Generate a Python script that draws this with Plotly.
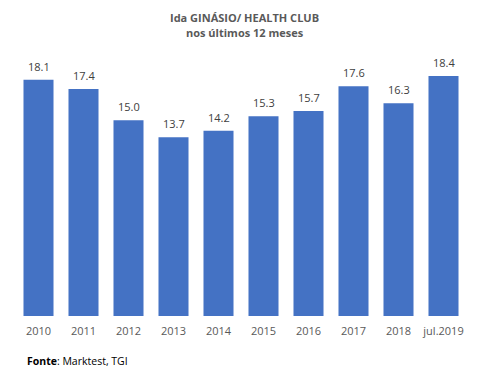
import plotly.graph_objects as go

categories = ["2010", "2011", "2012", "2013", "2014", "2015", "2016", "2017", "2018", "jul.2019"]
values = [18.1, 17.4, 15.0, 13.7, 14.2, 15.3, 15.7, 17.6, 16.3, 18.4]

FONT = "Open Sans, Liberation Sans, sans-serif"
W, H = 481, 376
ML, MR, MT, MB = 16, 15, 55, 60
plot_w = W - ML - MR
plot_h = H - MT - MB


def px_to_paper(x, y):
    return (x - ML) / plot_w, (H - MB - y) / plot_h


fig = go.Figure(go.Bar(
    x=categories, y=values,
    marker=dict(color="#4472C4", line=dict(width=0)),
    hoverinfo="x+y",
))

anns = []
for i, v in enumerate(values):
    # x given as the category index on the category axis
    anns.append(dict(text=f"{v:.1f}", x=i, y=v, xref="x", yref="y", showarrow=False,
                     xanchor="center", yanchor="bottom", yshift=4,
                     font=dict(family=FONT, size=11, color="#404040")))

fx, fy = px_to_paper(245, 17)
anns.append(dict(text="<b>Ida GINÁSIO/ HEALTH CLUB</b>", x=fx, y=fy, xref="paper", yref="paper",
                 showarrow=False, xanchor="center", yanchor="middle",
                 font=dict(family=FONT, size=11, color="#595959")))
fx, fy = px_to_paper(245, 33)
anns.append(dict(text="<b>nos últimos 12 meses</b>", x=fx, y=fy, xref="paper", yref="paper",
                 showarrow=False, xanchor="center", yanchor="middle",
                 font=dict(family=FONT, size=11, color="#595959")))
fx, fy = px_to_paper(25, 361)
anns.append(dict(text="<b>Fonte</b>: Marktest, TGI", x=fx, y=fy, xref="paper", yref="paper",
                 showarrow=False, xanchor="left", yanchor="middle",
                 font=dict(family=FONT, size=10.5, color="#000000")))

fig.update_layout(
    width=W, height=H,
    margin=dict(l=ML, r=MR, t=MT, b=MB, autoexpand=False),
    paper_bgcolor="white", plot_bgcolor="white",
    bargap=0.333,
    showlegend=False,
    xaxis=dict(type="category", categoryorder="array", categoryarray=categories,
               showgrid=False, showline=False, zeroline=False, ticks="", automargin=False,
               ticklabelstandoff=7,
               tickfont=dict(family=FONT, size=11, color="#595959")),
    yaxis=dict(range=[0, 20], visible=False, automargin=False),
    annotations=anns,
)

fig.write_html("out.html", post_script="document.body.style.margin='0';",
               config={"displayModeBar": False})
